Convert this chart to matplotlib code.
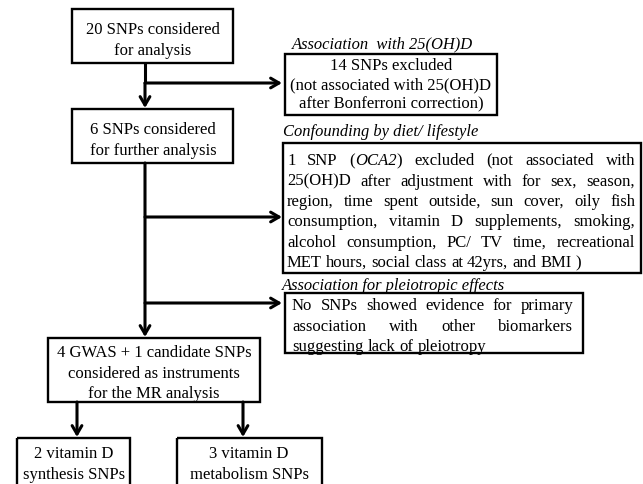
import matplotlib.pyplot as plt
from matplotlib.patches import Rectangle

W, H = 643, 484
FONT = 'Liberation Serif'
FS = 12
LFS = 11.9
STEP = 20.3
BASE = 5.4  # baseline offset from visual line centre (px)

# flowchart texts
main_steps = [
    ["20 SNPs considered", "for analysis"],
    ["6 SNPs considered", "for further analysis"],
    ["4 GWAS + 1 candidate SNPs", "considered as instruments", "for the MR analysis"],
]
split_steps = [
    ["2 vitamin D", "synthesis SNPs"],
    ["3 vitamin D", "metabolism SNPs"],
]
side_labels = [
    "Association  with 25(OH)D",
    "Confounding by diet/ lifestyle",
    "Association for pleiotropic effects",
]
excluded_bonferroni = ["14 SNPs excluded", "(not associated with 25(OH)D",
                       "after Bonferroni correction)"]
# *...* marks italic pieces
excluded_confounding = [
    "1 SNP (*OCA2*) excluded (not associated with",
    "25(OH)D after adjustment with for sex, season,",
    "region, time spent outside, sun cover, oily fish",
    "consumption, vitamin D supplements, smoking,",
    "alcohol consumption, PC/ TV time, recreational",
    "MET hours, social class at 42yrs, and BMI )",
]
pleiotropy_note = [
    "No SNPs showed evidence for primary",
    "association with other biomarkers",
    "suggesting lack of pleiotropy",
]

fig = plt.figure(figsize=(W / 100, H / 100), dpi=100)
ax = fig.add_axes([0, 0, 1, 1])
ax.set_xlim(0, W)
ax.set_ylim(H, 0)
ax.axis('off')
renderer = fig.canvas.get_renderer()


def box(x0, y0, x1, y1):
    ax.add_patch(Rectangle((x0, y0), x1 - x0, y1 - y0, fill=False,
                           lw=1.7, ec='black', joinstyle='miter'))


def centred(lines, cx, y0, step=STEP):
    for i, line in enumerate(lines):
        ax.text(cx, y0 + i * step + BASE, line, ha='center', va='baseline',
                family=FONT, fontsize=FS)


def arrow(x0, y0, x1, y1):
    ax.annotate('', xy=(x1, y1), xytext=(x0, y0),
                arrowprops=dict(arrowstyle='->,head_length=0.6,head_width=0.35',
                                lw=2.2, color='black', shrinkA=0, shrinkB=0))


def line(x0, y0, x1, y1):
    ax.plot([x0, x1], [y0, y1], color='black', lw=2.2, solid_capstyle='butt')


def word_pieces(word):
    parts = word.split('*')
    return [(p, 'italic' if k % 2 else 'normal') for k, p in enumerate(parts) if p]


def ink_width(s, style='normal'):
    t = ax.text(0, 0, s, family=FONT, fontsize=FS, style=style)
    w = t.get_window_extent(renderer).width
    t.remove()
    return w


def width_of(s, style='normal'):
    # advance width, bracketed by bars so bearings are included
    return ink_width('|' + s + '|', style) - ink_width('||', style)


def justified(lines, x0, x1, y0, step=STEP):
    space = width_of(' ')
    for i, ln in enumerate(lines):
        words = [word_pieces(w) for w in ln.split(' ')]
        widths = [sum(width_of(p, s) for p, s in w) for w in words]
        last = i == len(lines) - 1
        gap = space if last or len(words) < 2 else \
            (x1 - x0 - sum(widths)) / (len(words) - 1)
        x = x0
        y = y0 + i * step + BASE
        for w, ww in zip(words, widths):
            xx = x
            for p, s in w:
                ax.text(xx, y, p, ha='left', va='baseline', family=FONT,
                        fontsize=FS, style=s)
                xx += width_of(p, s)
            x += ww + gap


# main column
box(72, 9, 233, 63)
centred(main_steps[0], 153, 29)
box(72, 109, 233, 163)
centred(main_steps[1], 153, 129, 21)
box(48, 338, 260, 402)
centred(main_steps[2], 154, 352)

line(145, 63, 145, 83)
arrow(145, 83, 145, 108)
arrow(145, 83, 282, 83)
arrow(145, 163, 145, 337)
arrow(145, 217, 282, 217)
arrow(145, 303, 282, 303)

# split into two groups
arrow(77, 402, 77, 437)
arrow(243, 402, 243, 437)
box(17, 438, 130, 495)
centred(split_steps[0], 74, 453)
box(177, 438, 322, 495)
centred(split_steps[1], 249, 453)

# side boxes
ax.text(292, 48, side_labels[0], ha='left', va='baseline',
        family=FONT, fontsize=LFS, style='italic')
box(285, 54, 497, 115)
centred(excluded_bonferroni, 391, 65, 19)

ax.text(283, 136, side_labels[1], ha='left', va='baseline',
        family=FONT, fontsize=LFS, style='italic')
box(283, 143, 641, 273)
justified(excluded_confounding, 287, 635, 160)

ax.text(282, 290, side_labels[2], ha='left', va='baseline',
        family=FONT, fontsize=LFS, style='italic')
box(285, 293, 583, 353)
justified(pleiotropy_note, 292, 573, 305)

fig.savefig('out.png', dpi=100)
